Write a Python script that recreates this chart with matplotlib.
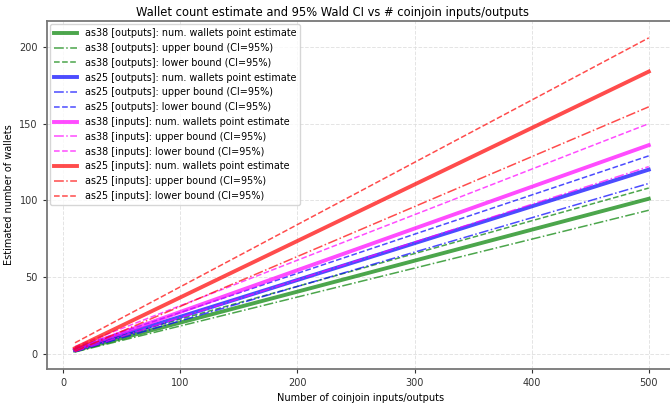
import numpy as np
import matplotlib
matplotlib.use("Agg")
import matplotlib.pyplot as plt

# coinjoin sizes (x) where the estimates were read
n_io = [10, 500]

# point estimates and Wald CI bounds
as38_out_est = [2.0, 101.0]
as38_out_up = [1.0, 93.5]
as38_out_lo = [3.2, 108.0]

as25_out_est = [2.4, 120.0]
as25_out_up = [1.2, 111.0]
as25_out_lo = [3.8, 129.0]

as38_in_est = [2.7, 136.0]
as38_in_up = [1.3, 122.0]
as38_in_lo = [4.5, 150.0]

as25_in_est = [3.5, 184.0]
as25_in_up = [1.5, 161.0]
as25_in_lo = [7.0, 206.0]

series = [
    ("as38 [outputs]", "green", as38_out_est, as38_out_up, as38_out_lo),
    ("as25 [outputs]", "blue", as25_out_est, as25_out_up, as25_out_lo),
    ("as38 [inputs]", "magenta", as38_in_est, as38_in_up, as38_in_lo),
    ("as25 [inputs]", "red", as25_in_est, as25_in_up, as25_in_lo),
]

fig = plt.figure(figsize=(6.7, 4.04), dpi=100)
ax = fig.add_axes([0.070, 0.087, 0.935, 0.861])

for name, col, est, up, lo in series:
    ax.plot(n_io, est, color=col, alpha=0.7, lw=2.8,
            label=f"{name}: num. wallets point estimate")
    ax.plot(n_io, up, color=col, alpha=0.7, lw=1.1, linestyle="-.",
            label=f"{name}: upper bound (CI=95%)")
    ax.plot(n_io, lo, color=col, alpha=0.7, lw=1.1, linestyle="--",
            label=f"{name}: lower bound (CI=95%)")

ax.set_xlim(-14, 521)
ax.set_ylim(-10, 217)
ax.set_xticks([0, 100, 200, 300, 400, 500])
ax.set_yticks([0, 50, 100, 150, 200])
ax.grid(True, linestyle="--", color="#dddddd", lw=0.7, alpha=0.8)

for s in ["left", "bottom", "top"]:
    ax.spines[s].set_color("#777777")
    ax.spines[s].set_linewidth(1.3)
ax.spines["right"].set_visible(False)
ax.tick_params(colors="#333333", labelsize=7, length=3, width=0.8)

fig.text(0.497, 0.970,
         "Wallet count estimate and 95% Wald CI vs # coinjoin inputs/outputs",
         fontsize=8.3, ha="center", va="center")
ax.set_xlabel("Number of coinjoin inputs/outputs", fontsize=7)
ax.set_ylabel("Estimated number of wallets", fontsize=7)
ax.legend(loc="upper left", fontsize=6.9, handlelength=2.4,
          labelspacing=0.5, borderaxespad=0.35)

fig.savefig("out.png", dpi=100)
